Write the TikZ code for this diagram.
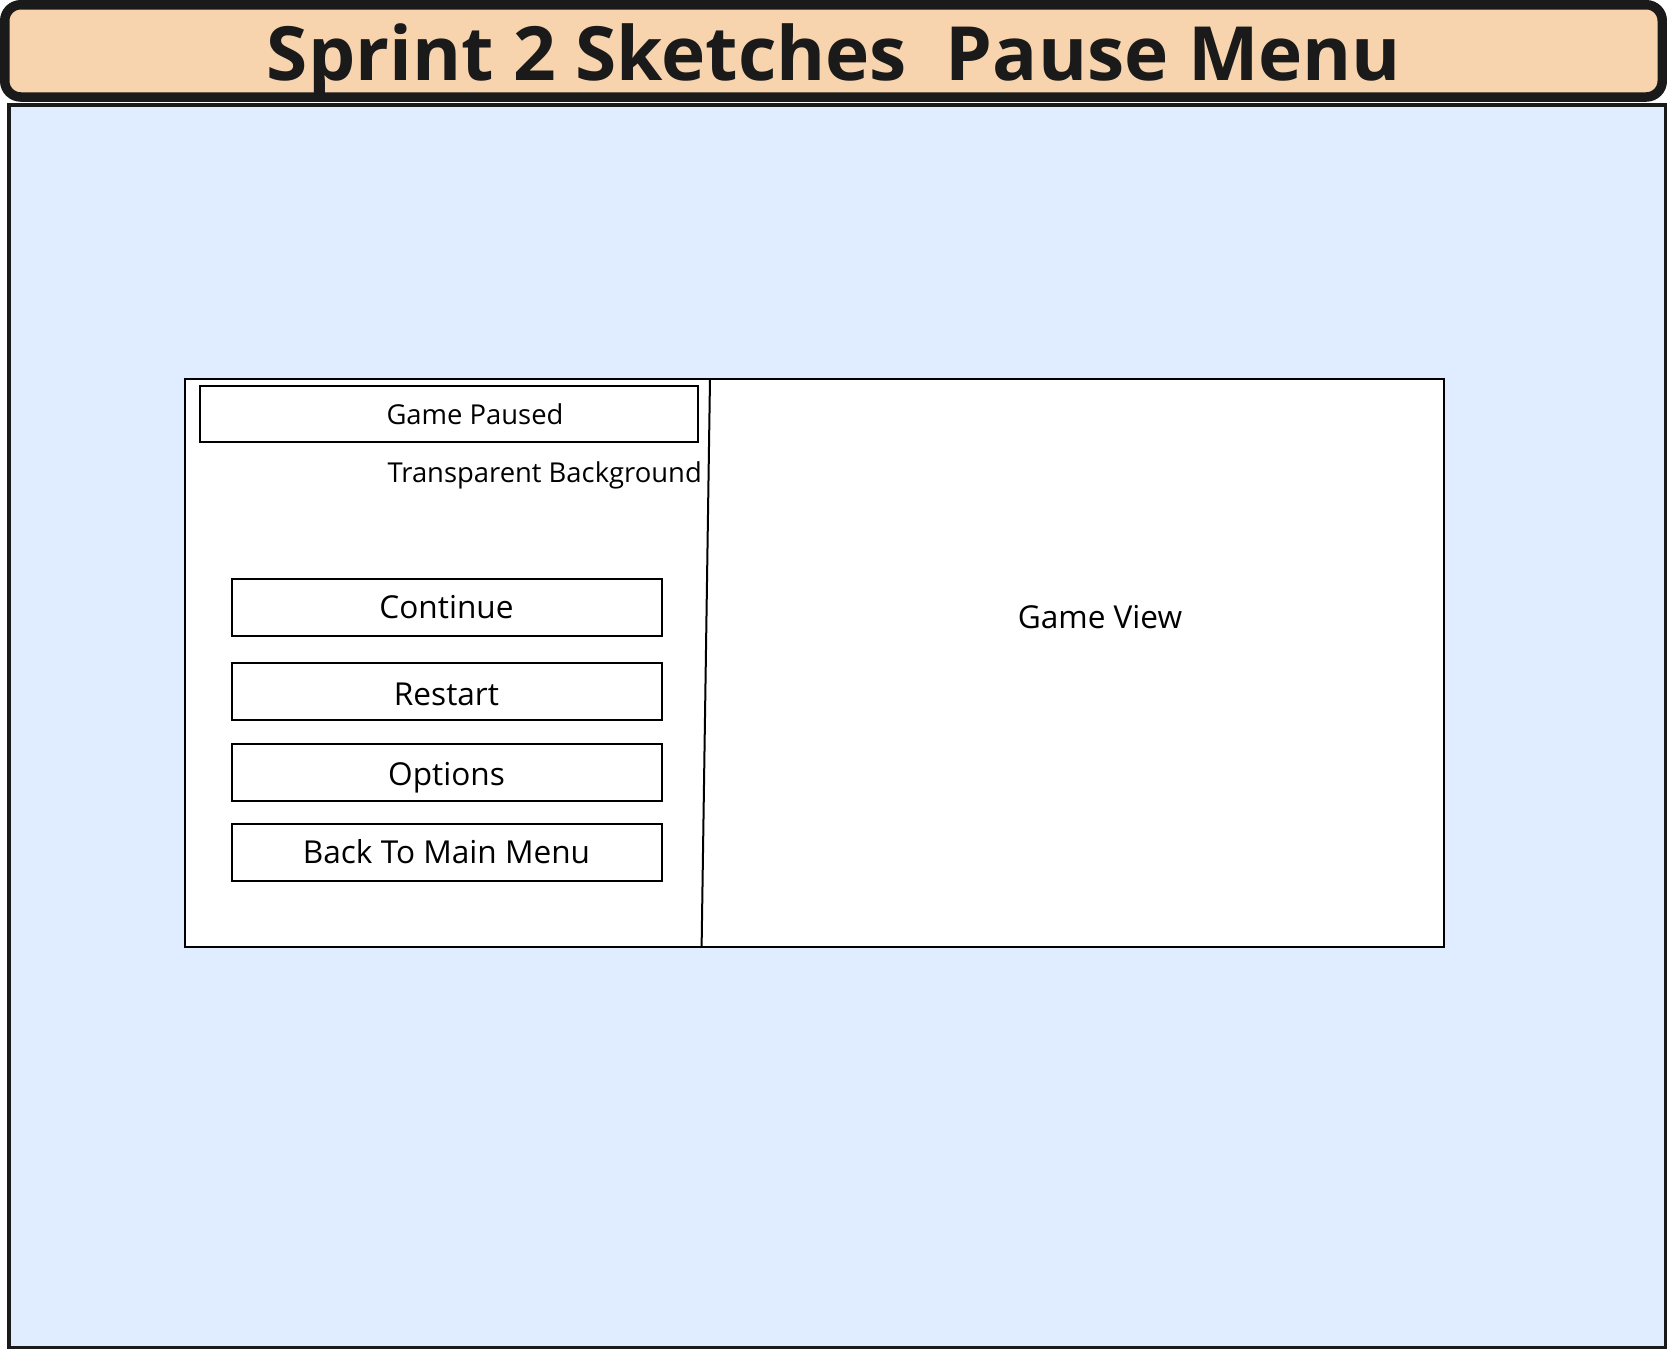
\documentclass[tikz,border=0pt]{standalone}
\usepackage{fontspec}
\setmainfont{Open Sans}
\usetikzlibrary{positioning}
\definecolor{titulofondo}{HTML}{F7D3AE}
\definecolor{fondo}{HTML}{E0ECFF}
\definecolor{borde}{HTML}{1A1A1A}

\tikzset{
  boton/.style={draw=black, line width=2pt, fill=white, minimum width=430pt,
    minimum height=57pt, inner sep=0pt},
  rotulo/.style={inner sep=0pt, font=\fontsize{31.6}{38}\selectfont},
  texto/.style={inner sep=0pt, font=\fontsize{27.4}{32}\selectfont}
}

\begin{document}
\begin{tikzpicture}[x=1pt,y=-1pt]
  \useasboundingbox (0,0) rectangle (1667,1349);

  % Fondo
  \draw[borde, line width=3.5pt, fill=fondo] (8.75,104.75) rectangle (1665.25,1347.25);

  % Titulo
  \draw[borde, line width=9.5pt, fill=titulofondo, rounded corners=16pt]
    (4.75,4.75) rectangle (1662.25,97);
  \node[inner sep=0pt, anchor=base, text=borde, font=\bfseries\fontsize{74.8}{80}\selectfont]
    (titulo) at (834,80) {Sprint 2 Sketches\ \ Pause Menu};

  % Paneles
  \draw[line width=2pt, fill=white] (185,378.5) rectangle (1444,947);
  \coordinate (divarriba) at (710,378.5);
  \coordinate (divabajo) at (701.6,947);
  \draw[line width=2pt] (divarriba) -- (divabajo);

  % Cabecera del menu
  \node[draw=black, line width=2pt, minimum width=498pt, minimum height=56pt]
    (cajapausa) at (449,414) {};
  \node[texto] (pausa) at (475,414.5) {Game Paused};
  \node[texto, anchor=east] (transparente) at (702,475) {Transparent Background};

  % Botones
  \foreach \n/\y/\d/\t in {continuar/607.5/0/Continue, reiniciar/691.5/3/Restart,
      opciones/772/6/Options, volver/852/0/Back To Main Menu}{
    \node[boton] (\n) at (446.5,\y) {};
    \node[rotulo] at ([yshift=-\d pt]\n.center) {\t};
  }

  % Vista del juego
  \node[rotulo] (vista) at (1100,616.6) {Game View};

\end{tikzpicture}
\end{document}
